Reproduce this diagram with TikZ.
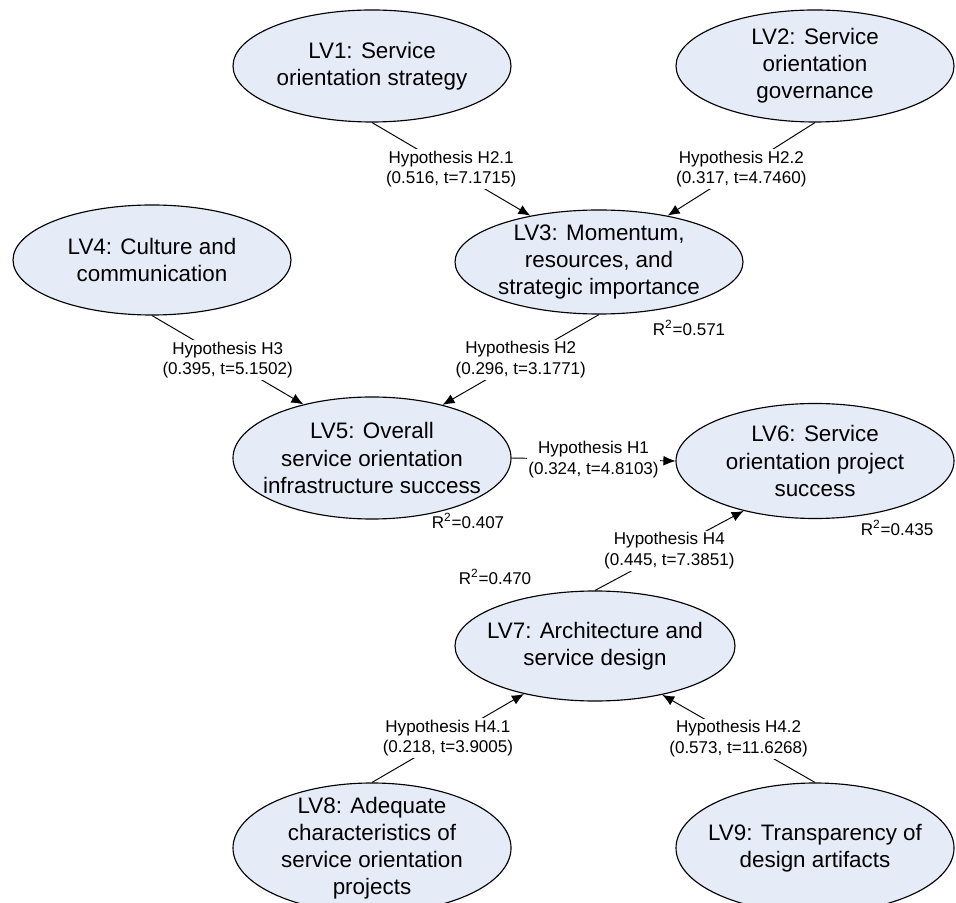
\documentclass[tikz,border=0pt]{standalone}
\usepackage{fontspec}
\setmainfont{Liberation Sans}
\usetikzlibrary{shapes.geometric,arrows.meta}
\definecolor{lvfill}{RGB}{230,236,247}
\tikzset{
  lv/.style={ellipse, draw, line width=0.65pt, fill=lvfill, align=center,
    inner xsep=-6.5pt, inner ysep=-3.5pt, minimum width=5.56cm, minimum height=2.24cm,
    font=\fontsize{12.75}{15.4}\selectfont},
  hyp/.style={fill=white, inner sep=1pt, align=center, font=\fontsize{9.7}{11.7}\selectfont},
  rsq/.style={inner sep=0pt, font=\fontsize{9.7}{11.7}\selectfont}
}

\begin{document}
\begin{tikzpicture}[>={Latex[length=2.4mm,width=2mm]}, line width=0.55pt]
		\useasboundingbox (0,0) rectangle (19.12,18.04);
		% Draw the latent variables
		\node[lv] (lv1) at (7.44,16.72) {LV1: Service\\orientation strategy};
		\node[lv] (lv2) at (16.30,16.72) {LV2: Service\\orientation\\governance};
		\node[lv, minimum width=5.76cm, minimum height=2.08cm] (lv3) at (11.98,12.80) {LV3: Momentum,\\resources, and\\strategic importance};
		\node[lv, minimum height=2.20cm] (lv4) at (3.04,12.84) {LV4: Culture and\\communication};
		\node[lv, minimum height=2.44cm] (lv5) at (7.44,8.88) {LV5: Overall\\service orientation\\infrastructure success};
		\node[lv, minimum height=2.30cm] (lv6) at (16.30,8.82) {LV6: Service\\orientation project\\success};
		\node[lv, minimum width=5.60cm, minimum height=2.20cm] (lv7) at (11.90,5.12) {LV7: Architecture and\\service design};
		\node[lv, minimum height=2.60cm] (lv8) at (7.44,1.08) {LV8: Adequate\\characteristics of\\service orientation\\projects};
		\node[lv, minimum height=2.60cm] (lv9) at (16.30,1.08) {LV9: Transparency of\\design artifacts};

		% Draw the hypotheses
		\draw[->] (lv1.south) -- node[hyp] {Hypothesis H2.1\\(0.516, t=7.1715)} (lv3.146);
		\draw[->] (lv2.south) -- node[hyp] {Hypothesis H2.2\\(0.317, t=4.7460)} (lv3.34);
		\draw[->] (lv4.south) -- node[hyp] {Hypothesis H3\\(0.395, t=5.1502)} (lv5.142);
		\draw[->] (lv3.south) -- node[hyp] {Hypothesis H2\\(0.296, t=3.1771)} (lv5.37);
		\draw[->] (lv5.east) -- node[hyp] {Hypothesis H1\\(0.324, t=4.8103)} (lv6.west);
		\draw[->] (lv7.north) -- node[hyp] {Hypothesis H4\\(0.445, t=7.3851)} (lv6.215);
		\draw[->] (lv8.north) -- node[hyp] {Hypothesis H4.1\\(0.218, t=3.9005)} (lv7.214);
		\draw[->] (lv9.north) -- node[hyp] {Hypothesis H4.2\\(0.573, t=11.6268)} (lv7.324);

		% Draw the R squared values
		\node[rsq] (r3) at (13.78,11.48) {R\textsuperscript{2}=0.571};
		\node[rsq] (r5) at (9.36,7.62) {R\textsuperscript{2}=0.407};
		\node[rsq] (r6) at (17.94,7.48) {R\textsuperscript{2}=0.435};
		\node[rsq] (r7) at (9.90,6.50) {R\textsuperscript{2}=0.470};
	\end{tikzpicture}
\end{document}
